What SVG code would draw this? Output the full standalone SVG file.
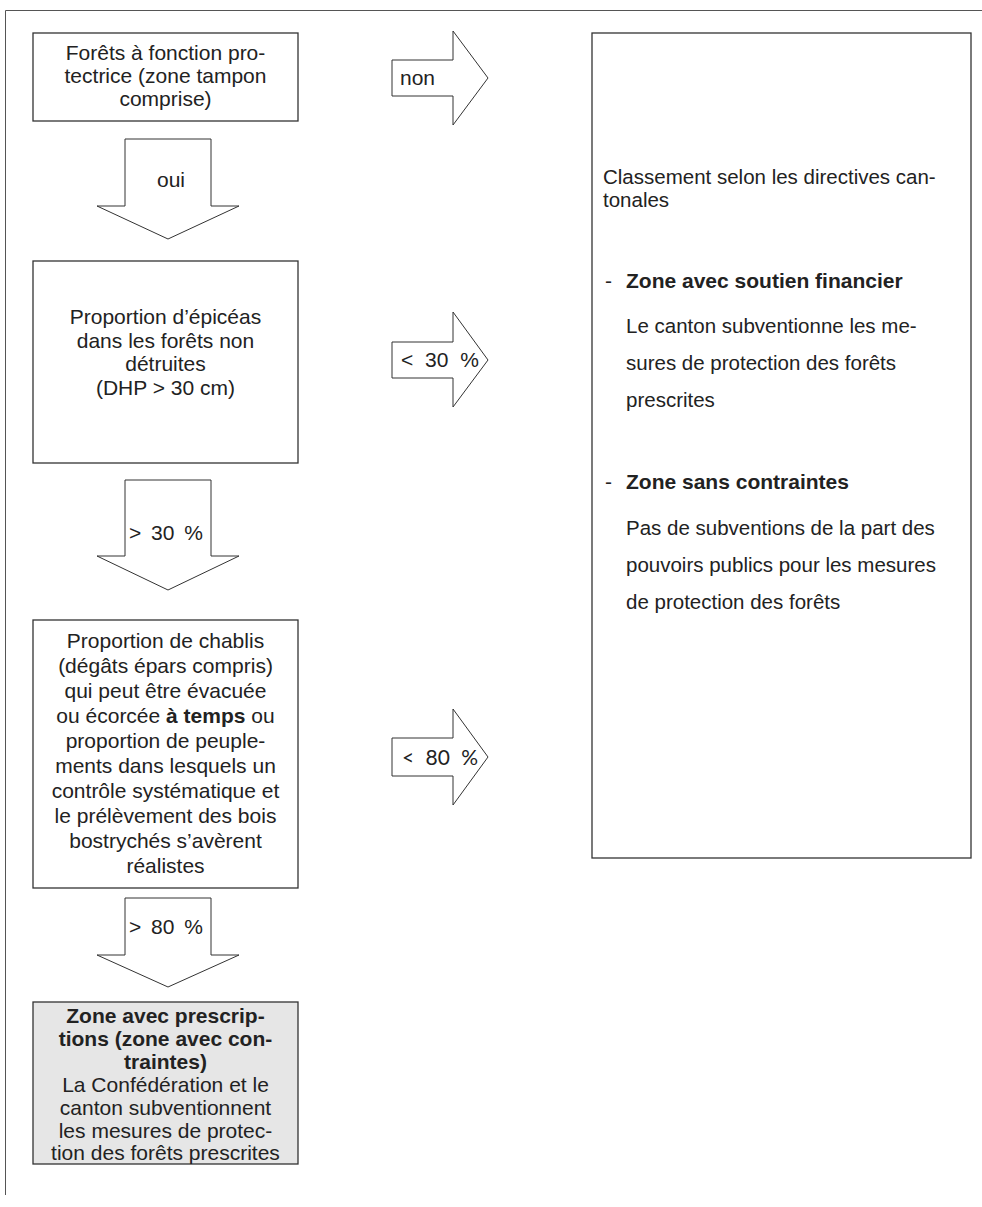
<svg xmlns="http://www.w3.org/2000/svg" width="982" height="1207" viewBox="0 0 982 1207">
<style>
  text { font-family: "Liberation Sans", Arial, sans-serif; font-size: 21px; fill: #222; }
  .c { text-anchor: middle; }
  .b { font-weight: bold; }
  .s { font-size: 20.5px; }
  .box { fill: #fff; stroke: #333; stroke-width: 1.3; }
  .grey { fill: #e6e6e6; }
  .arrow { fill: #fff; stroke: #333; stroke-width: 1; stroke-linejoin: miter; }
  .frame { fill: none; stroke: #555; stroke-width: 1; }
  .calib { font-family: Lato, "Liberation Sans", sans-serif; }
</style>
<rect width="982" height="1207" fill="#fff"/>
<path class="frame" d="M982 10.5 H5.5 V1195"/>

<g id="connectors">
  <g id="arrow-non">
    <path class="arrow" d="M392 60 H453 V31 L488 78 L453 125 V96 H392 Z"/>
    <text x="400" y="85">non</text>
  </g>
  <g id="arrow-oui">
    <path class="arrow" d="M125 139 H211 V206 H239 L168 239 L97 206 H125 Z"/>
    <text class="c" x="171" y="187">oui</text>
  </g>
  <g id="arrow-lt30">
    <path class="arrow" d="M392 342 H453 V312 L488 360 L453 407 V378 H392 Z"/>
    <text x="401" y="367" word-spacing="6">&lt; 30 %</text>
  </g>
  <g id="arrow-gt30">
    <path class="arrow" d="M125 480 H211 V556 H239 L168 590 L97 556 H125 Z"/>
    <text x="129" y="540" word-spacing="4">&gt; 30 %</text>
  </g>
  <g id="arrow-lt80">
    <path class="arrow" d="M392 738 H453 V709 L488 757 L453 805 V776 H392 Z"/>
    <text class="calib" x="402" y="765" word-spacing="6">&lt; 80 %</text>
  </g>
  <g id="arrow-gt80">
    <path class="arrow" d="M125 898 H211 V955 H239 L168 987 L97 955 H125 Z"/>
    <text x="129" y="934" word-spacing="4">&gt; 80 %</text>
  </g>
</g>

<g id="node-protection">
  <rect class="box" x="33" y="33" width="265" height="88"/>
  <text class="c" x="165.5" y="60">Forêts à fonction pro-</text>
  <text class="c" x="165.5" y="83">tectrice (zone tampon</text>
  <text class="c" x="165.5" y="106">comprise)</text>
</g>

<g id="node-epiceas">
  <rect class="box" x="33" y="261" width="265" height="202"/>
  <text class="c" x="165.5" y="324">Proportion d’épicéas</text>
  <text class="c" x="165.5" y="347.5">dans les forêts non</text>
  <text class="c" x="165.5" y="371">détruites</text>
  <text class="c" x="165.5" y="394.5">(DHP &gt; 30 cm)</text>
</g>

<g id="node-chablis">
  <rect class="box" x="33" y="620" width="265" height="268"/>
  <text class="c" x="165.5" y="648">Proportion de chablis</text>
  <text class="c" x="165.5" y="673">(dégâts épars compris)</text>
  <text class="c" x="165.5" y="698">qui peut être évacuée</text>
  <text class="c" x="165.5" y="723">ou écorcée <tspan class="b">à temps</tspan> ou</text>
  <text class="c" x="165.5" y="748">proportion de peuple-</text>
  <text class="c" x="165.5" y="773">ments dans lesquels un</text>
  <text class="c" x="165.5" y="798">contrôle systématique et</text>
  <text class="c" x="165.5" y="823">le prélèvement des bois</text>
  <text class="c" x="165.5" y="848">bostrychés s’avèrent</text>
  <text class="c" x="165.5" y="873">réalistes</text>
</g>

<g id="node-prescriptions">
  <rect class="box grey" x="33" y="1002" width="265" height="162"/>
  <text class="c b" x="165.5" y="1023">Zone avec prescrip-</text>
  <text class="c b" x="165.5" y="1046">tions (zone avec con-</text>
  <text class="c b" x="165.5" y="1069">traintes)</text>
  <text class="c" x="165.5" y="1092">La Confédération et le</text>
  <text class="c" x="165.5" y="1115">canton subventionnent</text>
  <text class="c" x="165.5" y="1138">les mesures de protec-</text>
  <text class="c" x="165.5" y="1160">tion des forêts prescrites</text>
</g>

<g id="node-cantonal">
  <rect class="box" x="592" y="33" width="379" height="825"/>
  <text class="s" x="603" y="184">Classement selon les directives can-</text>
  <text class="s" x="603" y="207">tonales</text>
  <text x="605" y="288">-</text>
  <text class="b" x="626" y="288">Zone avec soutien financier</text>
  <text class="s" x="626" y="333">Le canton subventionne les me-</text>
  <text class="s" x="626" y="370">sures de protection des forêts</text>
  <text class="s" x="626" y="407">prescrites</text>
  <text x="605" y="489">-</text>
  <text class="b" x="626" y="489">Zone sans contraintes</text>
  <text class="s" x="626" y="535">Pas de subventions de la part des</text>
  <text class="s" x="626" y="572">pouvoirs publics pour les mesures</text>
  <text class="s" x="626" y="609">de protection des forêts</text>
</g>
</svg>
